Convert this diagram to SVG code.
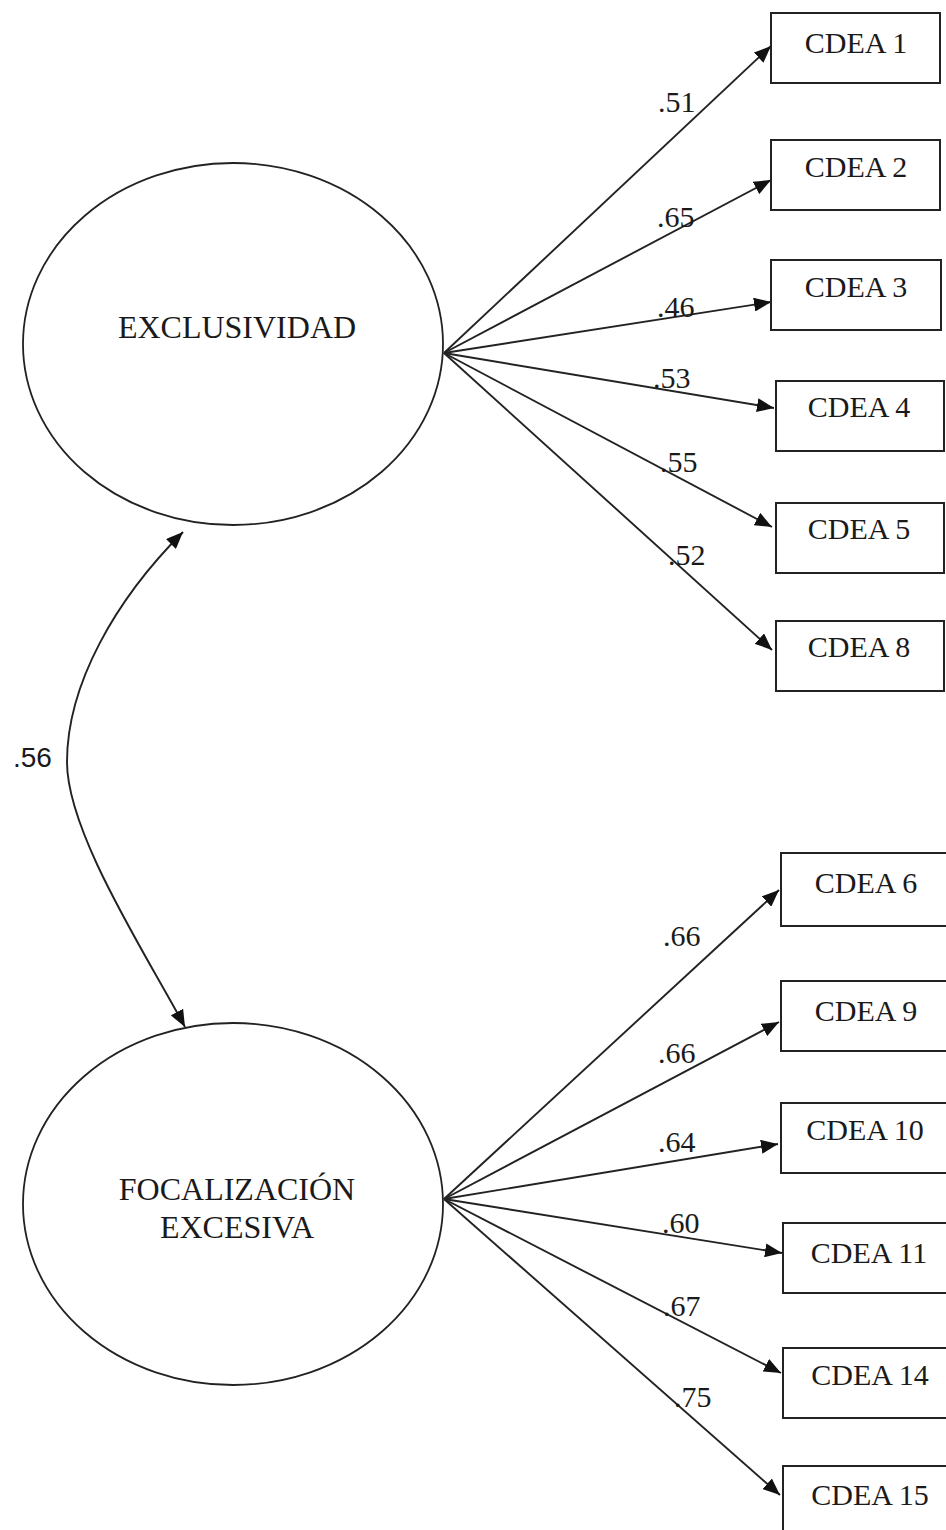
<svg xmlns="http://www.w3.org/2000/svg" width="946" height="1530" viewBox="0 0 946 1530">
  <style>
    .latent { fill: #fff; stroke: #222; stroke-width: 1.8; }
    .obs { fill: #fff; stroke: #222; stroke-width: 2; }
    .lbl { font-family: "Liberation Serif", "Times New Roman", serif; fill: #1a1a1a; }
    .big { font-size: 32px; text-anchor: middle; }
    .box { font-size: 30px; text-anchor: middle; }
    .coef { font-size: 30px; }
    .cov { font-family: "Liberation Sans", Arial, sans-serif; font-size: 28px; fill: #1a1a1a; }
    .path { fill: none; stroke: #222; stroke-width: 1.9; }
  </style>
  <defs>
    <marker id="head" markerUnits="userSpaceOnUse" markerWidth="18" markerHeight="14" refX="17" refY="7" orient="auto-start-reverse" viewBox="0 0 18 14">
      <path d="M0,0 L17,7 L0,14 Z" fill="#111"/>
    </marker>
  </defs>
  <rect width="946" height="1530" fill="#fff"/>

  <!-- loadings and covariance -->
  <g id="connectors">
    <g marker-end="url(#head)" class="path">
      <line x1="444" y1="353" x2="771" y2="46"/>
      <line x1="444" y1="353" x2="771" y2="180"/>
      <line x1="444" y1="353" x2="771" y2="302"/>
      <line x1="444" y1="353" x2="774" y2="408"/>
      <line x1="444" y1="353" x2="772" y2="527"/>
      <line x1="444" y1="353" x2="772" y2="650"/>
      <line x1="444" y1="1199" x2="779" y2="890"/>
      <line x1="444" y1="1199" x2="779" y2="1022"/>
      <line x1="444" y1="1199" x2="778" y2="1144"/>
      <line x1="444" y1="1199" x2="782" y2="1253"/>
      <line x1="444" y1="1199" x2="781" y2="1373"/>
      <line x1="444" y1="1199" x2="780" y2="1495"/>
    </g>
    <path class="path" marker-start="url(#head)" marker-end="url(#head)" d="M183,532 C116,599 67,684 67,762 C67,832 144,951 185,1027"/>
    <g class="lbl coef">
      <text x="658" y="112">.51</text>
      <text x="657" y="227">.65</text>
      <text x="657" y="317">.46</text>
      <text x="653" y="388">.53</text>
      <text x="660" y="472">.55</text>
      <text x="668" y="565">.52</text>
      <text x="663" y="946">.66</text>
      <text x="658" y="1063">.66</text>
      <text x="658" y="1152">.64</text>
      <text x="662" y="1233">.60</text>
      <text x="663" y="1316">.67</text>
      <text x="674" y="1407">.75</text>
    </g>
    <text class="cov" x="13" y="767">.56</text>
  </g>

  <g id="exclusividad">
    <ellipse class="latent" cx="233" cy="344" rx="210" ry="181"/>
    <text class="lbl big" x="237" y="338">EXCLUSIVIDAD</text>
  </g>
  <g id="focalizacion">
    <ellipse class="latent" cx="233" cy="1204" rx="210" ry="181"/>
    <text class="lbl big" x="237" y="1200">FOCALIZACIÓN</text>
    <text class="lbl big" x="237" y="1238">EXCESIVA</text>
  </g>

  <g id="cdea1"><rect class="obs" x="771" y="13" width="169" height="70"/><text class="lbl box" x="856" y="53">CDEA 1</text></g>
  <g id="cdea2"><rect class="obs" x="771" y="140" width="169" height="70"/><text class="lbl box" x="856" y="177">CDEA 2</text></g>
  <g id="cdea3"><rect class="obs" x="771" y="260" width="170" height="70"/><text class="lbl box" x="856" y="297">CDEA 3</text></g>
  <g id="cdea4"><rect class="obs" x="776" y="381" width="168" height="70"/><text class="lbl box" x="859" y="417">CDEA 4</text></g>
  <g id="cdea5"><rect class="obs" x="776" y="503" width="168" height="70"/><text class="lbl box" x="859" y="539">CDEA 5</text></g>
  <g id="cdea8"><rect class="obs" x="776" y="621" width="168" height="70"/><text class="lbl box" x="859" y="657">CDEA 8</text></g>
  <g id="cdea6"><rect class="obs" x="781" y="853" width="180" height="73"/><text class="lbl box" x="866" y="893">CDEA 6</text></g>
  <g id="cdea9"><rect class="obs" x="781" y="981" width="180" height="70"/><text class="lbl box" x="866" y="1021">CDEA 9</text></g>
  <g id="cdea10"><rect class="obs" x="781" y="1103" width="180" height="70"/><text class="lbl box" x="865" y="1140">CDEA 10</text></g>
  <g id="cdea11"><rect class="obs" x="783" y="1223" width="180" height="70"/><text class="lbl box" x="869" y="1263">CDEA 11</text></g>
  <g id="cdea14"><rect class="obs" x="783" y="1348" width="180" height="70"/><text class="lbl box" x="870" y="1385">CDEA 14</text></g>
  <g id="cdea15"><rect class="obs" x="783" y="1466" width="180" height="80"/><text class="lbl box" x="870" y="1505">CDEA 15</text></g>
</svg>
